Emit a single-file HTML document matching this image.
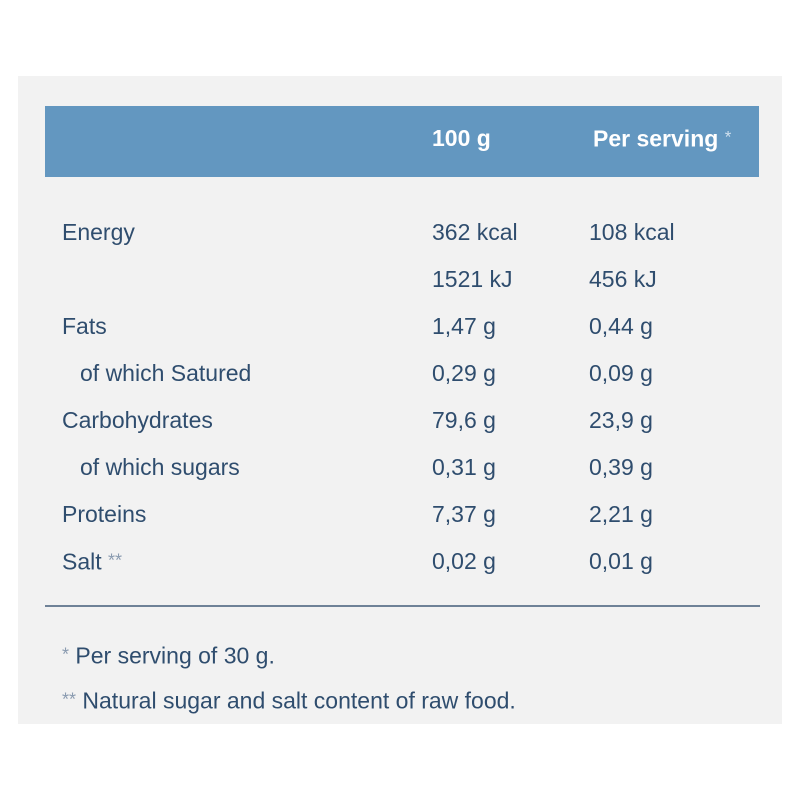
<!DOCTYPE html>
<html><head><style>
body{margin:0;width:800px;height:800px;background:#fff;position:relative;font-family:"Liberation Sans",sans-serif;overflow:hidden}
#p{position:absolute;left:18px;top:76px;width:764px;height:648px;background:#f2f2f2}
#h{position:absolute;left:45px;top:106px;width:714px;height:71px;background:#6397c0}
.t{position:absolute;font-size:23px;color:#2f4d6e;line-height:26px;white-space:nowrap;transform:translateY(-50%)}
.hd{color:#fff;font-weight:bold;font-size:23px}
.s{font-size:18px;color:#8a9bb0;vertical-align:3px}
#l{position:absolute;left:45px;top:605px;width:715px;height:2px;background:#6f8297}
</style></head><body>
<div id="p"></div><div id="h"></div><div id="l"></div>
<div class="t hd" style="left:432px;top:138px">100 g</div>
<div class="t hd" style="left:593px;top:138px">Per serving <span style="font-weight:normal;font-size:17px;color:#cfe0ee;vertical-align:4px">*</span></div>
<div class="t" style="left:62px;top:232px">Energy</div><div class="t" style="left:432px;top:232px">362 kcal</div><div class="t" style="left:589px;top:232px">108 kcal</div>
<div class="t" style="left:432px;top:279px">1521 kJ</div><div class="t" style="left:589px;top:279px">456 kJ</div>
<div class="t" style="left:62px;top:326px">Fats</div><div class="t" style="left:432px;top:326px">1,47 g</div><div class="t" style="left:589px;top:326px">0,44 g</div>
<div class="t" style="left:80px;top:373px">of which Satured</div><div class="t" style="left:432px;top:373px">0,29 g</div><div class="t" style="left:589px;top:373px">0,09 g</div>
<div class="t" style="left:62px;top:420px">Carbohydrates</div><div class="t" style="left:432px;top:420px">79,6 g</div><div class="t" style="left:589px;top:420px">23,9 g</div>
<div class="t" style="left:80px;top:467px">of which sugars</div><div class="t" style="left:432px;top:467px">0,31 g</div><div class="t" style="left:589px;top:467px">0,39 g</div>
<div class="t" style="left:62px;top:514px">Proteins</div><div class="t" style="left:432px;top:514px">7,37 g</div><div class="t" style="left:589px;top:514px">2,21 g</div>
<div class="t" style="left:62px;top:561px">Salt <span class="s">**</span></div><div class="t" style="left:432px;top:561px">0,02 g</div><div class="t" style="left:589px;top:561px">0,01 g</div>
<div class="t" style="left:62px;top:655px"><span class="s">*</span> Per serving of 30 g.</div>
<div class="t" style="left:62px;top:700px"><span class="s">**</span> Natural sugar and salt content of raw food.</div>
</body></html>
